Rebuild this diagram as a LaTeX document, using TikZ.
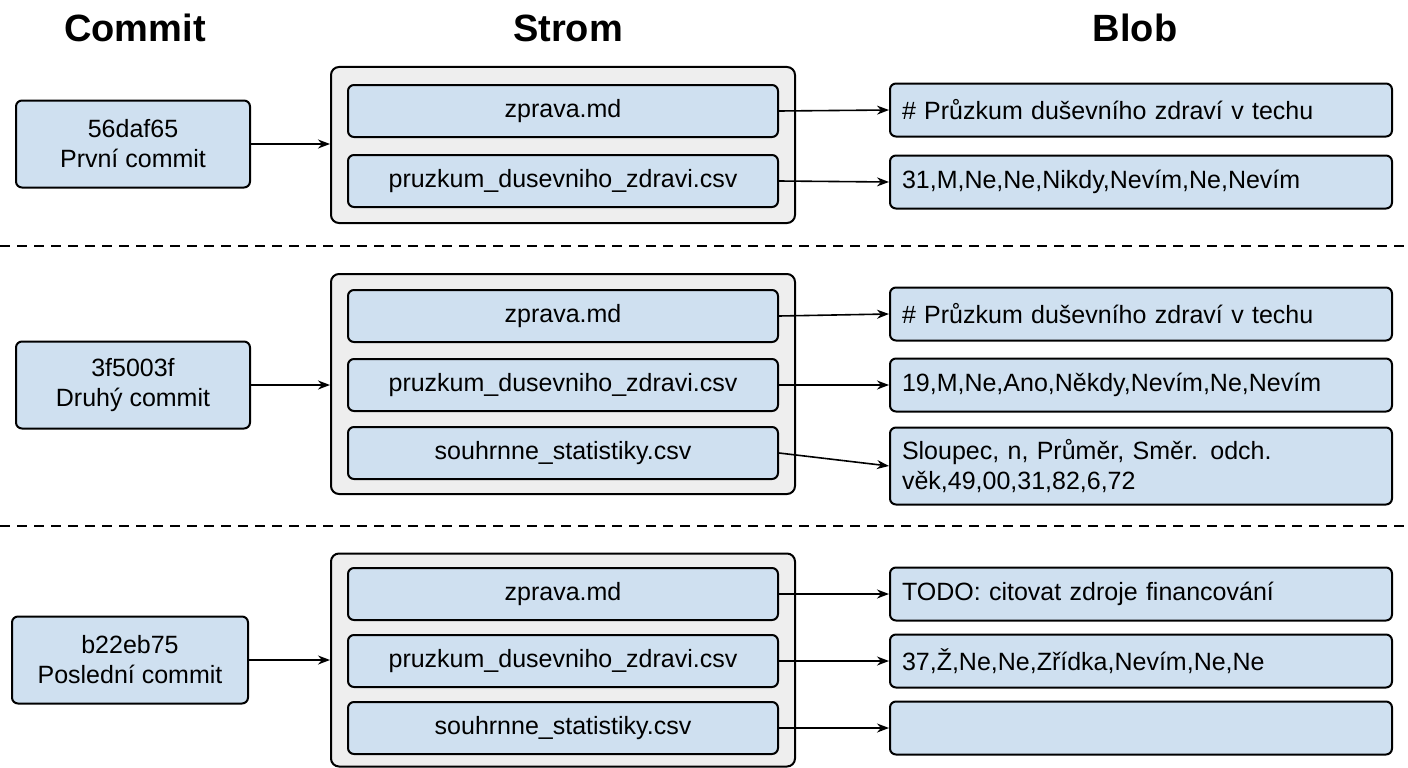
\documentclass[tikz,border=0pt]{standalone}
\usepackage{fontspec}
\usetikzlibrary{arrows.meta}
\setmainfont{Liberation Sans}
\definecolor{bx}{HTML}{CFE0F0}
\definecolor{og}{HTML}{EEEEEE}
\begin{document}
\begin{tikzpicture}[x=1pt,y=-1pt,
  box/.style={draw=black,line width=2pt,fill=bx,rounded corners=6pt,inner sep=0pt,font=\fontsize{25}{30}\selectfont,align=center},
  outer/.style={draw=black,line width=2pt,fill=og,rounded corners=8pt,inner sep=0pt},
  hd/.style={font=\fontsize{38}{44}\selectfont\bfseries},
  arr/.style={-{Stealth[length=12pt,width=9pt]},line width=1.6pt},
  dl/.style={dashed,dash pattern=on 10pt off 7pt,line width=2pt}]
\useasboundingbox (0,0) rectangle (1408,768);
\node[hd] (h1) at (135,28) {Commit};
\node[hd] (h2) at (568,28) {Strom};
\node[hd] (h3) at (1135,28) {Blob};
\draw[dl] (0,246) -- (1408,246);
\draw[dl] (0,526) -- (1408,526);
% outer tree boxes
\node[outer,minimum width=464pt,minimum height=156pt] (t1) at (563,145) {};
\node[outer,minimum width=464pt,minimum height=220pt] (t2) at (563,384) {};
\node[outer,minimum width=464pt,minimum height=213pt] (t3) at (563,660) {};
% commits
\node[box,minimum width=234pt,minimum height=87pt] (c1) at (133,144) {56daf65\\První commit};
\node[box,minimum width=234pt,minimum height=87pt] (c2) at (133,385) {3f5003f\\Druhý commit};
\node[box,minimum width=236pt,minimum height=87pt] (c3) at (130,660) {b22eb75\\Poslední commit};
% tree entries
\tikzset{te/.style={box,minimum width=430pt,minimum height=52pt},
  bl/.style={box,minimum width=502pt,minimum height=53pt,align=left,text width=478pt}}
\node[te] (a1) at (563,111) {zprava.md};
\node[te] (a2) at (563,181) {pruzkum\_dusevniho\_zdravi.csv};
\node[te] (b1) at (563,316) {zprava.md};
\node[te] (b2) at (563,385) {pruzkum\_dusevniho\_zdravi.csv};
\node[te] (b3) at (563,453) {souhrnne\_statistiky.csv};
\node[te] (d1) at (563,594) {zprava.md};
\node[te] (d2) at (563,661) {pruzkum\_dusevniho\_zdravi.csv};
\node[te] (d3) at (563,728) {souhrnne\_statistiky.csv};
% blobs
\node[bl] (x1) at (1141,110) {\# Průzkum duševního zdraví v techu};
\node[bl] (x2) at (1141,182) {31,M,Ne,Ne,Nikdy,Nevím,Ne,Nevím};
\node[bl] (y1) at (1141,314) {\# Průzkum duševního zdraví v techu};
\node[bl] (y2) at (1141,385) {19,M,Ne,Ano,Někdy,Nevím,Ne,Nevím};
\node[bl,minimum height=77pt] (y3) at (1141,466) {Sloupec, n, Průměr, Směr. odch.\\věk,49,00,31,82,6,72};
\node[bl] (z1) at (1141,594) {TODO: citovat zdroje financování};
\node[bl] (z2) at (1141,661) {37,Ž,Ne,Ne,Zřídka,Nevím,Ne,Ne};
\node[bl] (z3) at (1141,728) {};
% arrows
\draw[arr] (c1.east) -- (t1.west |- c1.east);
\draw[arr] (c2.east) -- (t2.west |- c2.east);
\draw[arr] (c3.east) -- (t3.west |- c3.east);
\draw[arr] (a1.east) -- (x1.west);
\draw[arr] (a2.east) -- (x2.west);
\draw[arr] (b1.east) -- (y1.west);
\draw[arr] (b2.east) -- (y2.west);
\draw[arr] (b3.east) -- (y3.west);
\draw[arr] (d1.east) -- (z1.west);
\draw[arr] (d2.east) -- (z2.west);
\draw[arr] (d3.east) -- (z3.west);
\end{tikzpicture}
\end{document}
